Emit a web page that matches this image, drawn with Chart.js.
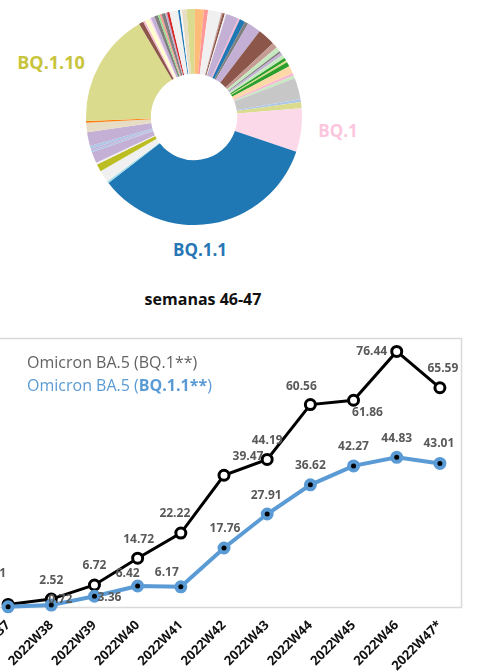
<!DOCTYPE html>
<html>
<head>
<meta charset="utf-8">
<script src="https://cdn.jsdelivr.net/npm/chart.js@4.4.1/dist/chart.umd.min.js"></script>
<style>
  html, body { margin: 0; padding: 0; background: #fff; }
  body { width: 480px; height: 671px; overflow: hidden; position: relative; font-family: 'Open Sans', sans-serif; }
  .lbl { position: absolute; transform: translate(-50%, -50%); font-weight: 700; white-space: nowrap; line-height: 1; }
  .legend { position: absolute; left: 27px; transform: translateY(-50%); font-size: 16px; white-space: nowrap; line-height: 1; }
  #donutBox { position: absolute; left: 86px; top: 9px; width: 216px; height: 216px; }
  #lineBox { position: absolute; left: -22px; top: 330px; width: 492px; height: 350px; }
</style>
</head>
<body>

<div id="donutBox"><canvas id="donut"></canvas></div>
<div class="lbl" style="left:51px; top:62px; font-size:18px; color:#c8c43c;">BQ.1.10</div>
<div class="lbl" style="left:338px; top:130px; font-size:17px; color:#fbc6dd;">BQ.1</div>
<div class="lbl" style="left:200px; top:249px; font-size:17px; color:#2776b5;">BQ.1.1</div>
<div class="lbl" style="left:203px; top:299px; font-size:16px; color:#111;">semanas 46-47</div>

<div id="lineBox"><canvas id="trend"></canvas></div>
<div class="legend" style="top:362px; color:#636363;">Omicron BA.5 (BQ.1**)</div>
<div class="legend" style="top:385px; color:#5b9bd5;">Omicron BA.5 (<b>BQ.1.1**</b>)</div>

<script>
// ── Doughnut: lineage shares, weeks 46-47 (clockwise from just left of 12 o'clock) ──
const lineageNames = [
  'otro 1', 'otro 2', 'otro 3', 'otro 4', 'otro 5', 'otro 6', 'otro 7', 'otro 8',
  'otro 9', 'otro 10', 'otro 11', 'otro 12', 'otro 13', 'otro 14', 'otro 15', 'otro 16',
  'otro 17', 'otro 18', 'otro 19', 'otro 20', 'otro 21', 'otro 22', 'otro 23', 'otro 24',
  'otro 25', 'otro 26', 'otro 27', 'BQ.1', 'BQ.1.1', 'otro 28', 'otro 29', 'otro 30',
  'otro 31', 'otro 32', 'otro 33', 'otro 34', 'otro 35', 'otro 36', 'otro 37', 'otro 38',
  'BQ.1.10', 'otro 39', 'otro 40', 'otro 41', 'otro 42', 'otro 43', 'otro 44', 'otro 45',
  'otro 46', 'otro 47', 'otro 48', 'otro 49', 'otro 50', 'otro 51', 'otro 52', 'otro 53'
];
const lineageShares = [
  1.25, 1.33, 0.64, 2.00, 0.19, 0.33, 0.22, 1.86,
  0.28, 0.83, 0.56, 2.03, 2.64, 0.83, 0.69, 0.28,
  0.42, 0.56, 0.42, 0.28, 0.69, 1.11, 0.42, 0.42,
  3.22, 0.39, 0.94, 6.50, 34.36, 0.28, 1.81, 1.11,
  0.28, 1.67, 0.28, 0.28, 0.42, 2.08, 1.39, 0.28,
  17.11, 0.67, 0.28, 0.69, 0.28, 0.56, 0.56, 0.28,
  0.28, 0.56, 0.28, 0.36, 1.31, 0.28, 0.28, 0.69
];
const lineageColors = [
  '#dbdb8d', '#ffbb78', '#ff9896', '#f0f0f0', '#c49c94', '#8c564b', '#f0f0f0', '#c5b0d5',
  '#f7b6d2', '#1f77b4', '#7f7f7f', '#c5b0d5', '#8c564b', '#c49c94', '#c7e9c0', '#7f7f7f',
  '#c5b0d5', '#c7e9c0', '#2ca02c', '#dbdb8d', '#2ca02c', '#ffd8a8', '#f7b6d2', '#c7e9c0',
  '#c7c7c7', '#aec7e8', '#dbdb8d', '#fcd9e9', '#1f77b4', '#9edae5', '#f0f0f0', '#bcbd22',
  '#f0f0f0', '#c5b0d5', '#aec7e8', '#c5b0d5', '#aec7e8', '#c5b0d5', '#e7dcc4', '#ff7f0e',
  '#dbdb8d', '#8c564b', '#f7b6d2', '#ffffcc', '#fde0ef', '#c5b0d5', '#7f7f7f', '#98df8a',
  '#ff9896', '#7f7f7f', '#c5b0d5', '#d62728', '#f0f0f0', '#1f77b4', '#f7f7f7', '#e7dcc4'
];

// ── Line chart: weekly % ──
const weeks = ['2022W37', '2022W38', '2022W39', '2022W40', '2022W41', '2022W42',
               '2022W43', '2022W44', '2022W45', '2022W46', '2022W47*'];
const bq1Values  = [0.91, 2.52, 6.72, 14.72, 22.22, 39.47, 44.19, 60.56, 61.86, 76.44, 65.59];
const bq11Values = [0.21, 0.72, 3.36, 6.42, 6.17, 17.76, 27.91, 36.62, 42.27, 44.83, 43.01];

// label placement relative to each point (dx, dy)
const bq1LabelOffsets  = [[-14, -31], [0, -18], [0, -19], [1, -19], [-6, -19], [24, -19],
                          [0, -19], [-9, -18], [14, 12], [-25, 0], [3, -19]];
const bq11LabelOffsets = [[-30, -6], [9, -6], [15, 1], [-10, -12], [-14, -14], [1, -19],
                          [-1, -18], [0, -19], [0, -19], [0, -19], [-1, -20]];

// ─── Doughnut ────────────────────────────────────────────────
new Chart(document.getElementById('donut'), {
    type: 'doughnut',
    data: {
        labels: lineageNames,
        datasets: [{
            data: lineageShares,
            backgroundColor: lineageColors,
            borderWidth: 0,
            hoverOffset: 0
        }]
    },
    options: {
        animation: false,
        responsive: true,
        maintainAspectRatio: false,
        rotation: -4,
        cutout: '40%',
        layout: { padding: 0 },
        plugins: { legend: { display: false }, tooltip: { enabled: false } }
    }
});

// ─── Plugins for the line chart ──────────────────────────────
const plotFrame = {
    id: 'plotFrame',
    beforeDatasetsDraw(chart) {
        const { ctx, chartArea: a } = chart;
        ctx.save();
        ctx.strokeStyle = '#d9d9d9';
        ctx.lineWidth = 1.5;
        ctx.strokeRect(a.left, a.top - 1, a.right - a.left, a.bottom - a.top + 1);
        ctx.restore();
    }
};

const valueLabels = {
    id: 'valueLabels',
    afterDatasetsDraw(chart) {
        const ctx = chart.ctx;
        ctx.save();
        ctx.font = 'bold 12px "Open Sans"';
        ctx.fillStyle = '#595959';
        ctx.textAlign = 'center';
        ctx.textBaseline = 'middle';
        chart.data.datasets.forEach((ds, i) => {
            chart.getDatasetMeta(i).data.forEach((pt, j) => {
                const [dx, dy] = ds.labelOffsets[j];
                ctx.fillText(ds.data[j].toFixed(2), pt.x + dx, pt.y + dy);
            });
        });
        ctx.restore();
    }
};

// ─── Line chart ──────────────────────────────────────────────
new Chart(document.getElementById('trend'), {
    type: 'line',
    data: {
        labels: weeks,
        datasets: [
            {
                label: 'Omicron BA.5 (BQ.1.1**)',
                data: bq11Values,
                labelOffsets: bq11LabelOffsets,
                borderColor: '#5b9bd5',
                borderWidth: 4,
                pointRadius: 4.5,
                pointBorderWidth: 4,
                pointBackgroundColor: '#000',
                pointBorderColor: '#5b9bd5',
                tension: 0,
                clip: false
            },
            {
                label: 'Omicron BA.5 (BQ.1**)',
                data: bq1Values,
                labelOffsets: bq1LabelOffsets,
                borderColor: '#000',
                borderWidth: 3,
                pointRadius: 5,
                pointBorderWidth: 3,
                pointBackgroundColor: '#fff',
                pointBorderColor: '#000',
                tension: 0,
                clip: false
            }
        ]
    },
    options: {
        animation: false,
        responsive: true,
        maintainAspectRatio: false,
        layout: { padding: { top: 9.5, left: 2, right: 0.5, bottom: 0 } },
        scales: {
            x: {
                offset: true,
                grid: { display: false, drawTicks: false },
                border: { display: false },
                ticks: {
                    color: '#111',
                    font: { family: "'Open Sans'", size: 13, weight: 'bold' },
                    minRotation: 45,
                    maxRotation: 45,
                    padding: 10,
                    autoSkip: false
                },
                afterFit(s) {
                    s.height = 72.5;
                    s.paddingLeft = 0;
                    s.paddingRight = 0;
                }
            },
            y: { display: false, min: 0, max: 80 }
        },
        plugins: { legend: { display: false }, tooltip: { enabled: false } }
    },
    plugins: [plotFrame, valueLabels]
});
</script>
</body>
</html>
